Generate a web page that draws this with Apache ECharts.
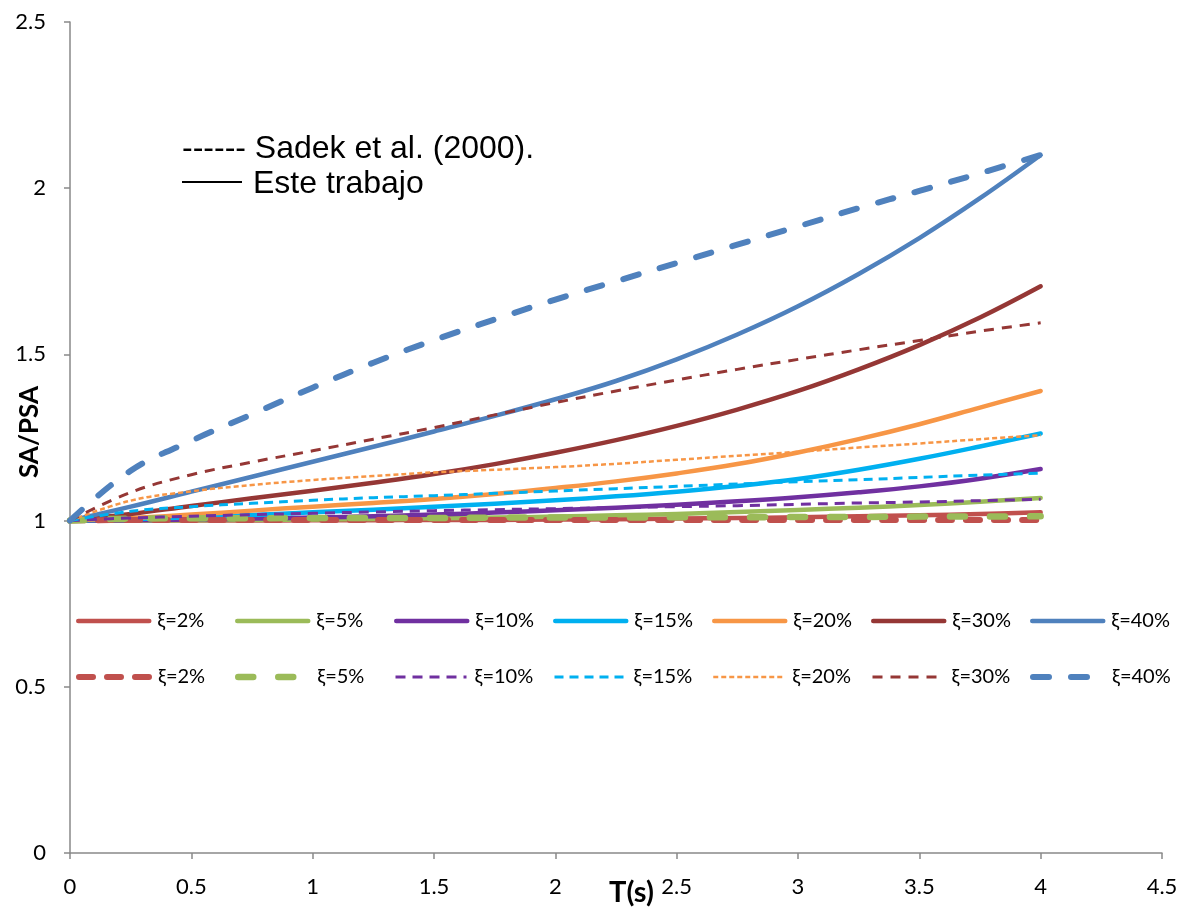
<!DOCTYPE html>
<html>
<head>
<meta charset="utf-8">
<script src="https://cdn.jsdelivr.net/npm/echarts@6/dist/echarts.min.js"></script>
<style>
  html, body { margin: 0; padding: 0; background: #fff; }
  #chart { width: 1188px; height: 916px; }
</style>
</head>
<body>
<div id="chart"></div>
<script>
// Period values (s) shared by every curve
const periods = [0, 0.25, 0.5, 0.75, 1, 1.25, 1.5, 1.75, 2, 2.25, 2.5, 2.75, 3, 3.25, 3.5, 3.75, 4];

// SA/PSA ratios, this work (solid curves)
const este2  = [1, 1.000, 1.000, 1.000, 1.001, 1.001, 1.002, 1.002, 1.003, 1.004, 1.006, 1.008, 1.010, 1.013, 1.016, 1.020, 1.025];
const este5  = [1, 1.000, 1.001, 1.002, 1.003, 1.005, 1.007, 1.009, 1.012, 1.016, 1.020, 1.026, 1.032, 1.039, 1.047, 1.057, 1.068];
const este10 = [1, 1.001, 1.003, 1.006, 1.009, 1.013, 1.018, 1.024, 1.031, 1.039, 1.048, 1.058, 1.070, 1.085, 1.103, 1.126, 1.155];
const este15 = [1, 1.004, 1.010, 1.017, 1.025, 1.033, 1.042, 1.051, 1.061, 1.073, 1.087, 1.104, 1.125, 1.153, 1.186, 1.223, 1.262];
const este20 = [1, 1.008, 1.018, 1.030, 1.042, 1.053, 1.065, 1.080, 1.098, 1.118, 1.142, 1.170, 1.205, 1.245, 1.290, 1.340, 1.390];
const este30 = [1, 1.020, 1.044, 1.067, 1.090, 1.114, 1.140, 1.170, 1.204, 1.242, 1.285, 1.334, 1.390, 1.455, 1.528, 1.611, 1.705];
const este40 = [1, 1.042, 1.087, 1.132, 1.177, 1.222, 1.268, 1.315, 1.365, 1.420, 1.485, 1.560, 1.645, 1.742, 1.850, 1.970, 2.100];

// SA/PSA ratios, Sadek et al. (2000) (dashed curves)
const sadek2  = [1, 1.002, 1.002, 1.002, 1.002, 1.002, 1.002, 1.002, 1.002, 1.002, 1.002, 1.002, 1.002, 1.002, 1.002, 1.002, 1.002];
const sadek5  = [1, 1.006, 1.007, 1.007, 1.008, 1.008, 1.008, 1.009, 1.009, 1.009, 1.010, 1.010, 1.011, 1.011, 1.012, 1.012, 1.013];
const sadek10 = [1, 1.008, 1.013, 1.018, 1.022, 1.026, 1.030, 1.033, 1.036, 1.039, 1.042, 1.045, 1.049, 1.053, 1.056, 1.060, 1.064];
const sadek15 = [1, 1.028, 1.042, 1.052, 1.061, 1.069, 1.075, 1.082, 1.089, 1.096, 1.103, 1.110, 1.117, 1.123, 1.130, 1.137, 1.143];
const sadek20 = [1, 1.060, 1.088, 1.107, 1.122, 1.134, 1.145, 1.153, 1.161, 1.171, 1.183, 1.195, 1.207, 1.220, 1.232, 1.245, 1.257];
const sadek30 = [1, 1.085, 1.138, 1.176, 1.210, 1.245, 1.280, 1.318, 1.355, 1.390, 1.423, 1.455, 1.485, 1.514, 1.542, 1.570, 1.595];
const sadek40 = [1, 1.150, 1.240, 1.320, 1.400, 1.475, 1.543, 1.605, 1.665, 1.720, 1.775, 1.830, 1.885, 1.940, 1.992, 2.045, 2.100];

const dampingLabels = ['ξ=2%', 'ξ=5%', 'ξ=10%', 'ξ=15%', 'ξ=20%', 'ξ=30%', 'ξ=40%'];
const xTicks = [0, 0.5, 1, 1.5, 2, 2.5, 3, 3.5, 4, 4.5];
const yTicks = [0, 0.5, 1, 1.5, 2, 2.5];

const colors = ['#C0504D', '#9BBB59', '#7030A0', '#00B0F0', '#F79646', '#953735', '#4F81BD'];

const esteSets = [este2, este5, este10, este15, este20, este30, este40];
const sadekSets = [sadek2, sadek5, sadek10, sadek15, sadek20, sadek30, sadek40];

// line styles: [width, dash pattern, cap]
const esteStyle = [4.5, 'solid', 'round'];
const sadekStyles = [
  [6, [14, 14], 'round'],
  [6.5, [15, 25], 'round'],
  [3, [10, 7], 'butt'],
  [3, [9, 6], 'butt'],
  [2.5, [5, 3], 'butt'],
  [3, [10, 8], 'butt'],
  [6, [16, 22], 'round']
];

const pairs = vals => periods.map((t, i) => [t, vals[i]]);

const series = [];
const legends = [];
const labelFont = 'Lato, "Open Sans", "Noto Sans", sans-serif';

function addCurve(prefix, lab, i, vals, st, z) {
  const lineStyle = { color: colors[i], width: st[0], type: st[1], cap: st[2], join: 'round' };
  series.push({
    name: prefix + lab,
    type: 'line',
    data: pairs(vals),
    smooth: 0.4,
    symbol: 'none',
    color: colors[i],
    lineStyle: lineStyle,
    z: z
  });
  // one legend entry per curve so both rows line up in fixed columns
  legends.push({
    data: [prefix + lab],
    left: 76 + i * 159,
    top: z === 2 ? 611 : 667,
    padding: 0,
    itemWidth: 71,
    itemHeight: 20,
    itemStyle: { opacity: 0 },
    lineStyle: { width: st[0], type: st[1], cap: st[2] },
    selectedMode: false,
    formatter: () => lab,
    textStyle: { color: '#000', fontSize: 20, fontFamily: labelFont, padding: [0, 0, 0, 3] }
  });
}

dampingLabels.forEach((lab, i) => addCurve('Este ', lab, i, esteSets[i], esteStyle, 2));
dampingLabels.forEach((lab, i) => addCurve('Sadek ', lab, i, sadekSets[i], sadekStyles[i], 3));

const chart = echarts.init(document.getElementById('chart'), null, { renderer: 'canvas' });
chart.setOption({
  animation: false,
  backgroundColor: '#fff',
  grid: { left: 70, right: 26, top: 22, bottom: 63, containLabel: false },
  legend: legends,
  xAxis: {
    type: 'value',
    min: xTicks[0],
    max: xTicks[xTicks.length - 1],
    interval: 0.5,
    axisLine: { lineStyle: { color: '#898989', width: 1.5 } },
    axisTick: { show: true, length: 6, lineStyle: { color: '#898989', width: 1.5 } },
    axisLabel: { color: '#000', fontSize: 22, fontFamily: labelFont, margin: 23 },
    splitLine: { show: false }
  },
  yAxis: {
    type: 'value',
    min: yTicks[0],
    max: yTicks[yTicks.length - 1],
    interval: 0.5,
    axisLine: { show: true, lineStyle: { color: '#898989', width: 1.5 } },
    axisTick: { show: true, length: 6, lineStyle: { color: '#898989', width: 1.5 } },
    axisLabel: { color: '#000', fontSize: 22, fontFamily: labelFont, margin: 24 },
    splitLine: { show: false }
  },
  graphic: [
    {
      type: 'text', left: 182, top: 133, z: 10,
      style: { text: '------ Sadek et al. (2000).', fill: '#000', font: '32px "Liberation Sans", Arial, sans-serif' }
    },
    {
      type: 'line', z: 10,
      shape: { x1: 182, y1: 182, x2: 242, y2: 182 },
      style: { stroke: '#000', lineWidth: 2 }
    },
    {
      type: 'text', left: 253, top: 168, z: 10,
      style: { text: 'Este trabajo', fill: '#000', font: '32px "Liberation Sans", Arial, sans-serif' }
    },
    {
      type: 'text', left: 609, top: 878, z: 10,
      style: { text: 'T(s)', fill: '#000', font: 'bold 29px ' + labelFont }
    },
    {
      type: 'text', x: 30, y: 432, rotation: Math.PI / 2, z: 10,
      style: { text: 'SA/PSA', fill: '#000', font: 'bold 26px ' + labelFont, align: 'center', verticalAlign: 'middle' }
    }
  ],
  series: series
});
</script>
</body>
</html>
